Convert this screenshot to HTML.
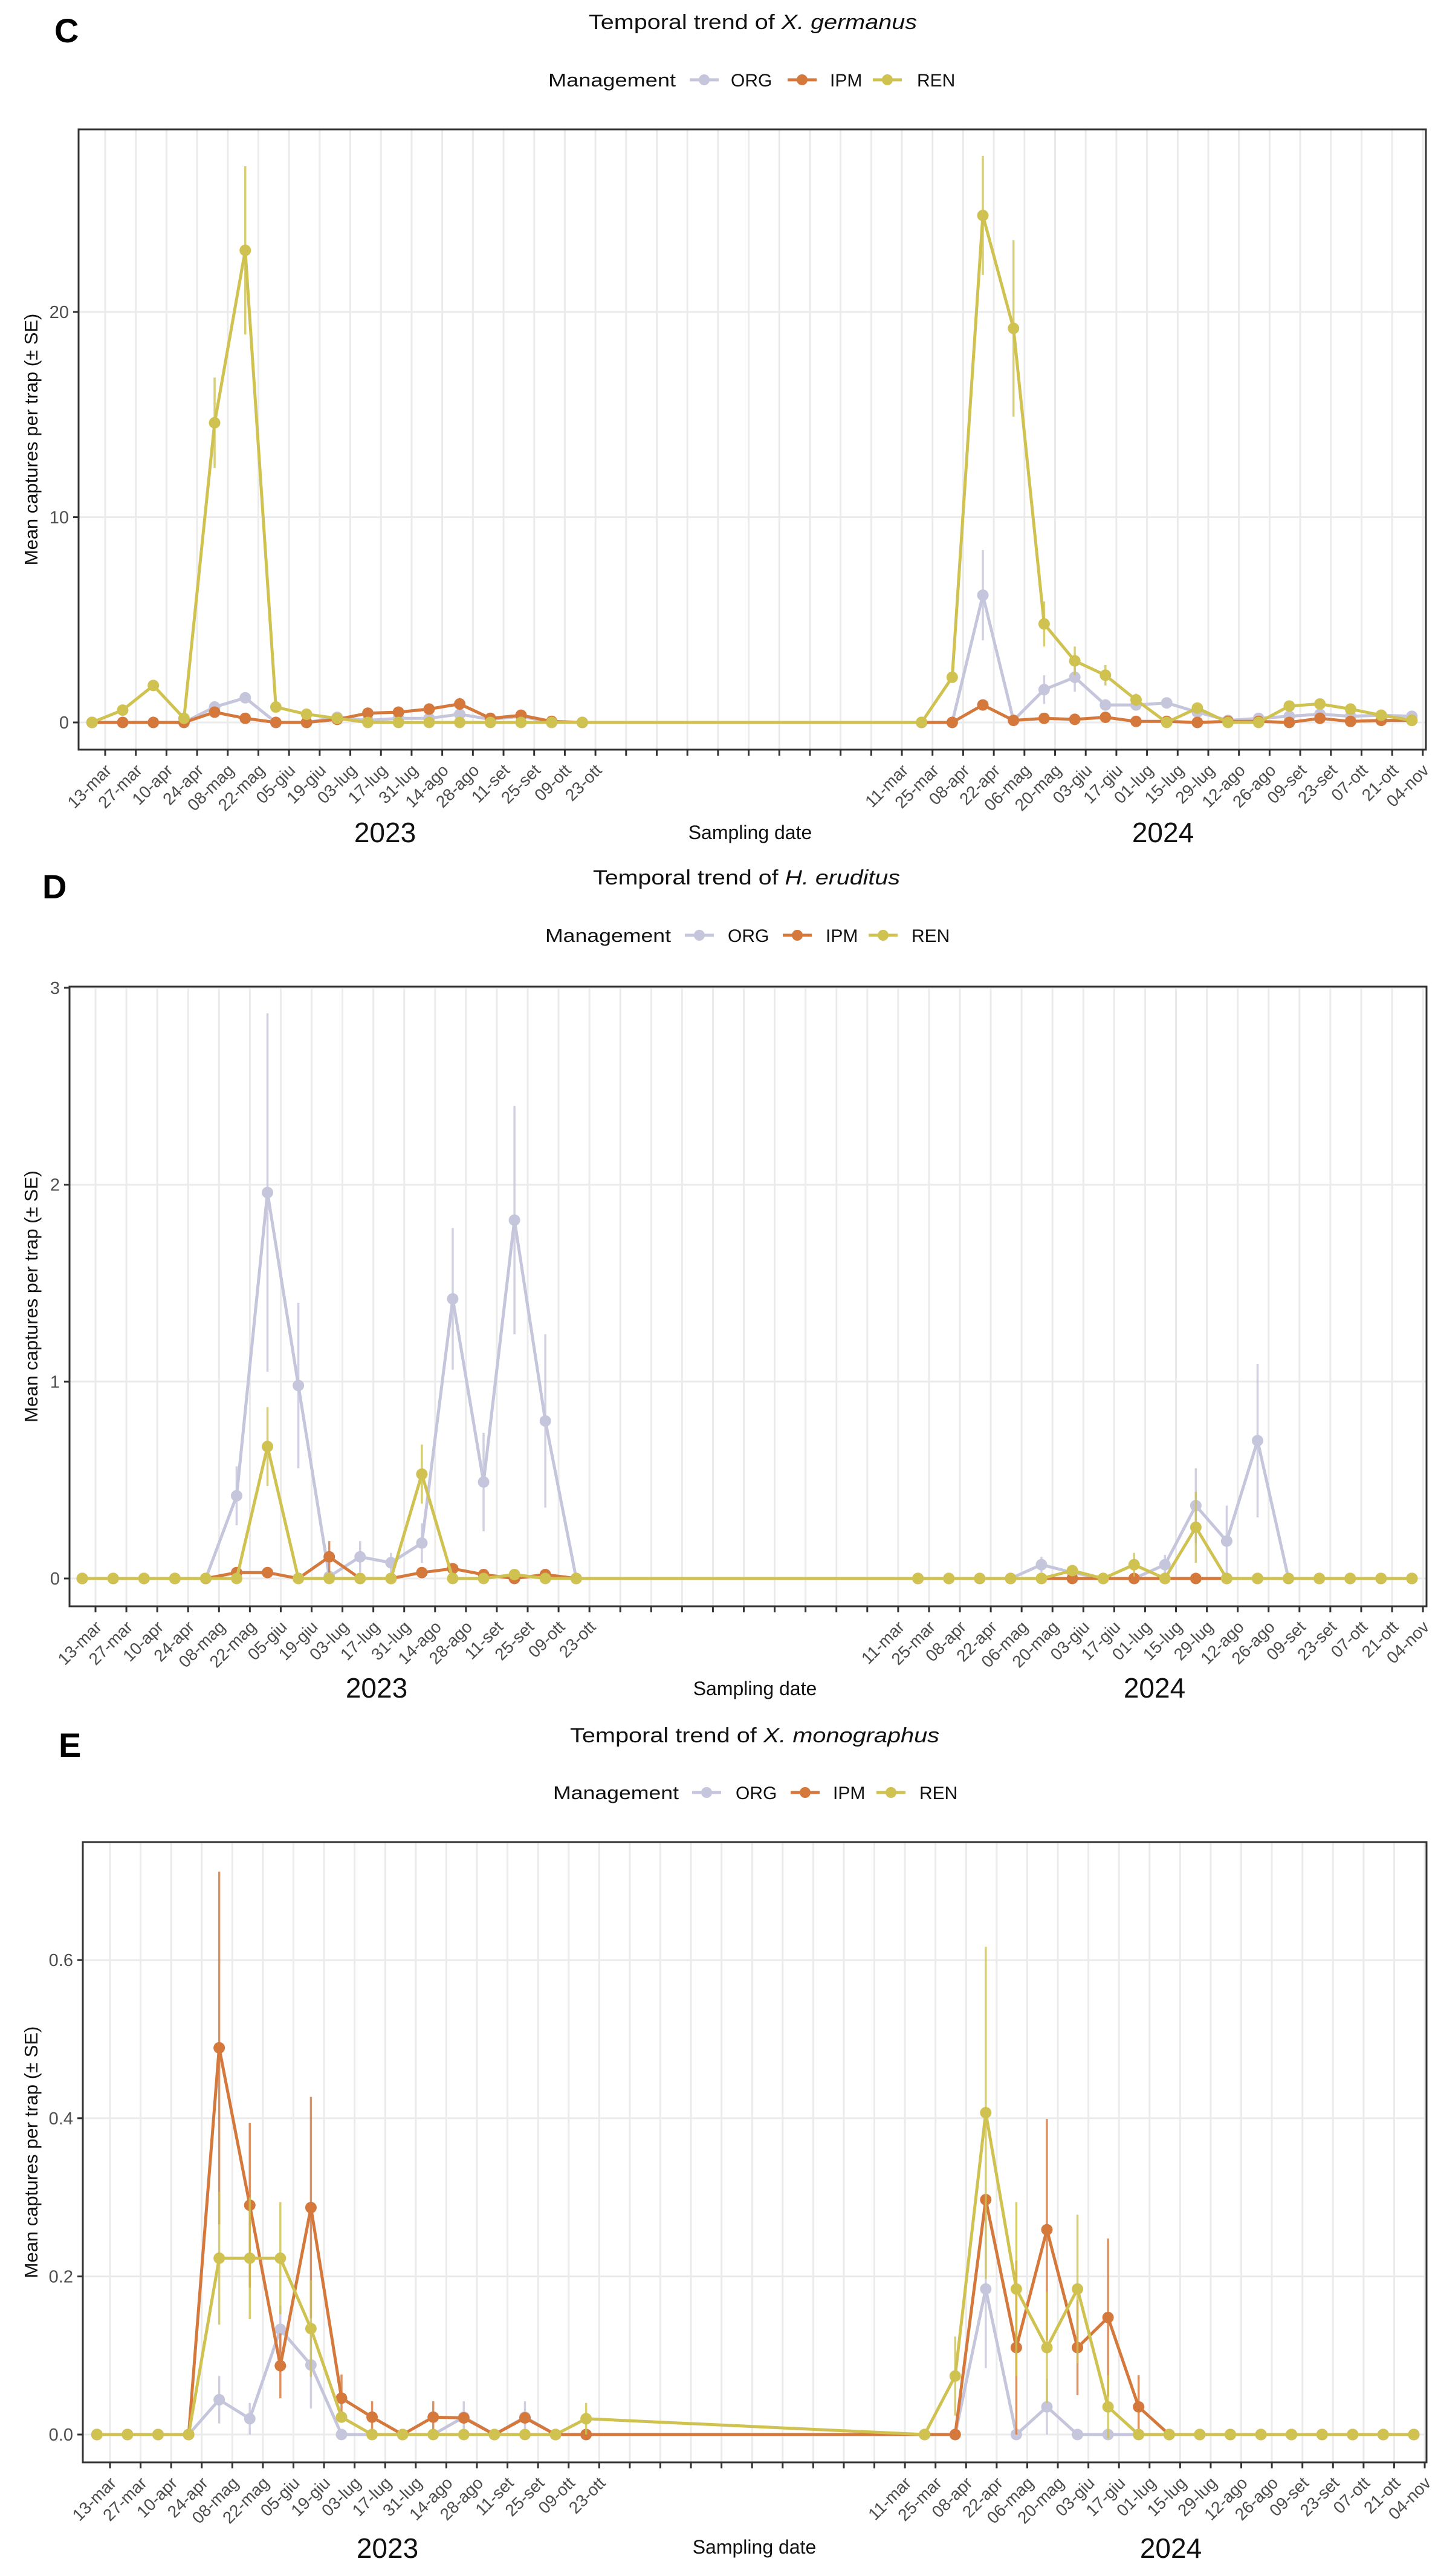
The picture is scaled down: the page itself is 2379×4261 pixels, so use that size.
<!DOCTYPE html>
<html><head><meta charset="utf-8"><title>Temporal trends</title>
<style>
html,body{margin:0;padding:0;background:#fff;}
svg{display:block;font-family:"Liberation Sans",Arial,sans-serif;}
</style></head>
<body>
<svg id="fig" width="2379" height="4261" viewBox="0 0 2379 4261" xmlns="http://www.w3.org/2000/svg"></svg>
<script>
// sampling days since 13-mar-2023 (2023: 17 dates, 2024: 17 dates)
const sampleDays = [-6,8,22,36,50,64,78,92,106,120,134,148,162,176,190,204,218,
  373,387,401,415,429,443,457,471,485,499,513,527,541,555,569,583,597];
const tickLabels2023 = ["13-mar","27-mar","10-apr","24-apr","08-mag","22-mag","05-giu","19-giu","03-lug","17-lug","31-lug","14-ago","28-ago","11-set","25-set","09-ott","23-ott"];
const tickLabels2024 = ["11-mar","25-mar","08-apr","22-apr","06-mag","20-mag","03-giu","17-giu","01-lug","15-lug","29-lug","12-ago","26-ago","09-set","23-set","07-ott","21-ott","04-nov"];
const groups = ["ORG","IPM","REN"];

// Panel C – X. germanus
const cYTicks = [0,10,20];
const cOrg   = [0,0,0,0,0.75,1.2,0,0,0.25,0.1,0.2,0.2,0.4,0.15,0.3,0,0, 0,0,6.2,0.1,1.6,2.2,0.85,0.85,0.95,0.5,0.1,0.2,0.3,0.4,0.3,0.35,0.3];
const cOrgSE = [0,0,0,0,0.2,0.2,0,0,0,0,0,0,0,0,0,0,0, 0,0,2.2,0,0.7,0.7,0,0,0,0,0,0,0,0,0,0,0];
const cIpm   = [0,0,0,0,0.5,0.2,0,0,0.15,0.45,0.5,0.65,0.9,0.2,0.35,0.05,0, 0,0,0.85,0.1,0.2,0.15,0.25,0.05,0.05,0,0.05,0.05,0,0.2,0.05,0.1,0.1];
const cIpmSE = [0,0,0,0,0,0,0,0,0,0,0,0,0.3,0,0,0,0, 0,0,0,0,0,0,0,0,0,0,0,0,0,0,0,0,0];
const cRen   = [0,0.6,1.8,0.2,14.6,23.0,0.75,0.4,0.2,0,0,0,0,0,0,0,0, 0,2.2,24.7,19.2,4.8,3.0,2.3,1.1,0,0.7,0,0,0.8,0.9,0.65,0.35,0.1];
const cRenSE = [0,0,0,0,2.2,4.1,0,0,0,0,0,0,0,0,0,0,0, 0,0,2.9,4.3,1.1,0.7,0.5,0.3,0,0,0,0,0,0,0,0,0];

// Panel D – H. eruditus
const dYTicks = [0,1,2,3];
const dOrg   = [0,0,0,0,0,0.42,1.96,0.98,0.01,0.11,0.08,0.18,1.42,0.49,1.82,0.80,0, 0,0,0,0,0.07,0.03,0,0,0.07,0.37,0.19,0.70,0,0,0,0,0];
const dOrgSE = [0,0,0,0,0,0.15,0.91,0.42,0,0.08,0.05,0.1,0.36,0.25,0.58,0.44,0, 0,0,0,0,0.04,0,0,0,0.05,0.19,0.18,0.39,0,0,0,0,0];
const dIpm   = [0,0,0,0,0,0.03,0.03,0,0.11,0,0,0.03,0.05,0.02,0,0.02,0, 0,0,0,0,0,0,0,0,0,0,0,0,0,0,0,0,0];
const dIpmSE = [0,0,0,0,0,0,0,0,0.08,0,0,0,0,0,0,0,0, 0,0,0,0,0,0,0,0,0,0,0,0,0,0,0,0,0];
const dRen   = [0,0,0,0,0,0,0.67,0,0,0,0,0.53,0,0,0.02,0,0, 0,0,0,0,0,0.04,0,0.07,0,0.26,0,0,0,0,0,0,0];
const dRenSE = [0,0,0,0,0,0,0.2,0,0,0,0,0.15,0,0,0,0,0, 0,0,0,0,0,0,0,0.06,0,0.18,0,0,0,0,0,0,0];

// Panel E – X. monographus
const eYTicks = [0,0.2,0.4,0.6];
const eOrg   = [0,0,0,0,0.044,0.02,0.133,0.088,0,0,0,0,0.022,0,0.022,0,0, 0,0,0.184,0,0.035,0,0,0,0,0,0,0,0,0,0,0,0];
const eOrgSE = [0,0,0,0,0.03,0.02,0.03,0.055,0,0,0,0,0.02,0,0.02,0,0, 0,0,0.1,0,0.035,0,0,0,0,0,0,0,0,0,0,0,0];
const eIpm   = [0,0,0,0,0.489,0.29,0.087,0.287,0.046,0.022,0,0.022,0.021,0,0.021,0,0, 0,0,0.297,0.11,0.259,0.11,0.148,0.035,0,0,0,0,0,0,0,0,0];
const eIpmSE = [0,0,0,0,0.223,0.104,0.041,0.14,0.03,0.02,0,0.02,0,0,0,0,0, 0,0,0,0.11,0.14,0.06,0.1,0.04,0,0,0,0,0,0,0,0,0];
const eRen   = [0,0,0,0,0.223,0.223,0.223,0.134,0.022,0,0,0,0,0,0,0,0.02, 0,0.074,0.407,0.184,0.11,0.184,0.035,0,0,0,0,0,0,0,0,0,0];
const eRenSE = [0,0,0,0,0.084,0.077,0.071,0.061,0,0,0,0,0,0,0,0,0.02, 0,0.05,0.21,0.11,0.07,0.094,0.04,0,0,0,0,0,0,0,0,0,0];

const colors = {ORG:"#c5c5dc", IPM:"#d4783c", REN:"#cfc250"};
const NS = "http://www.w3.org/2000/svg";
const svg = document.getElementById("fig");

function mk(tag, attrs, parent){
  const e = document.createElementNS(NS, tag);
  for (const k in attrs) e.setAttribute(k, attrs[k]);
  (parent||svg).appendChild(e);
  return e;
}

function drawPanel(p){
  const g = mk("g", {});
  
  
  const xS = d => p.x0 + d * p.pxd;
  const yS = v => p.y0 - v * p.pyu;

  // panel letter
  const L = mk("text", {x:p.letter[0], y:p.letter[1], "font-size":56, "font-weight":"bold", fill:"#000"}, g);
  L.textContent = p.letterText;
  
  

  // title
  const T = mk("text", {x:p.title[0], y:p.title[1], "font-size":34, fill:"#111", textLength:p.title[2], lengthAdjust:"spacingAndGlyphs"}, g);
  
  
  const t1 = mk("tspan", {}, T); t1.textContent = "Temporal trend of ";
  const t2 = mk("tspan", {"font-style":"italic"}, T); t2.textContent = p.species;

  // legend
  const lg = mk("g", {}, g);
  
  
  const ly = p.legend.y;
  const mt = mk("text", {x:p.legend.m[0], y:ly+11, "font-size":31, fill:"#111", textLength:p.legend.m[1]-p.legend.m[0], lengthAdjust:"spacingAndGlyphs"}, lg);
  mt.textContent = "Management";
  
  
  groups.forEach((gname, i) => {
    const eg = mk("g", {}, lg);
    
    
    const kx = p.legend.keys[i];
    mk("line", {x1:kx-24, x2:kx+24, y1:ly, y2:ly, stroke:colors[gname], "stroke-width":5}, eg);
    mk("circle", {cx:kx, cy:ly, r:9, fill:colors[gname]}, eg);
    const lt = mk("text", {x:p.legend.texts[i], y:ly+11, "font-size":30, fill:"#111"}, eg);
    lt.textContent = gname;
  });

  // panel background grid
  const grid = mk("g", {}, g);
  
  
  for (let k = 0; k <= 43; k++){
    const x = xS(k*14);
    mk("line", {x1:x, x2:x, y1:p.top, y2:p.bottom, stroke:"#ebebeb", "stroke-width":3}, grid);
  }
  p.yTicks.forEach(v => {
    const y = yS(v);
    mk("line", {x1:p.left, x2:p.right, y1:y, y2:y, stroke:"#ebebeb", "stroke-width":3}, grid);
  });

  // series
  const series = [["ORG", p.org, p.orgSE], ["IPM", p.ipm, p.ipmSE], ["REN", p.ren, p.renSE]];
  series.forEach(([name, vals, se]) => {
    const sg = mk("g", {}, g);
    
    
    vals.forEach((v, i) => {
      if (se[i] > 0){
        const eb = mk("line", {x1:xS(sampleDays[i]), x2:xS(sampleDays[i]), y1:yS(v - se[i]), y2:yS(v + se[i]), stroke:colors[name], "stroke-width":3.5, opacity:0.8}, sg);
        
        
      }
    });
    const pts = vals.map((v, i) => xS(sampleDays[i]).toFixed(1) + "," + yS(v).toFixed(1)).join(" ");
    const pl = mk("polyline", {points:pts, fill:"none", stroke:colors[name], "stroke-width":5, "stroke-linejoin":"round"}, sg);
    
    
    vals.forEach((v, i) => {
      const c = mk("circle", {cx:xS(sampleDays[i]), cy:yS(v), r:9.5, fill:colors[name]}, sg);
      
      
    });
  });

  // border
  const b = mk("rect", {x:p.left, y:p.top, width:p.right-p.left, height:p.bottom-p.top, fill:"none", stroke:"#333", "stroke-width":3}, g);
  
  

  // y axis
  const ya = mk("g", {}, g);
  
  
  p.yTicks.forEach(v => {
    const y = yS(v);
    mk("line", {x1:p.left-9, x2:p.left, y1:y, y2:y, stroke:"#333", "stroke-width":3}, ya);
    const tl = mk("text", {x:p.left-16, y:y+10, "font-size":29, fill:"#4d4d4d", "text-anchor":"end"}, ya);
    tl.textContent = p.yFmt(v);
  });
  const yt = mk("text", {x:0, y:0, "font-size":31, fill:"#111", "text-anchor":"middle", transform:"translate(" + (p.ytitleX) + "," + ((p.top+p.bottom)/2) + ") rotate(-90)"}, g);
  yt.textContent = "Mean captures per trap (± SE)";
  
  

  // x axis
  const xa = mk("g", {}, g);
  
  
  const labels = {};
  tickLabels2023.forEach((t, k) => labels[k] = t);
  tickLabels2024.forEach((t, k) => labels[26 + k] = t);
  for (let k = 0; k <= 43; k++){
    const x = xS(k*14);
    mk("line", {x1:x, x2:x, y1:p.bottom, y2:p.bottom+10, stroke:"#333", "stroke-width":3}, xa);
    if (labels[k]){
      const tl = mk("text", {x:0, y:0, "font-size":28, fill:"#4d4d4d", "text-anchor":"end", transform:"translate(" + (x+12) + "," + (p.bottom+36) + ") rotate(-45)"}, xa);
      tl.textContent = labels[k];
    }
  }
  const yr1 = mk("text", {x:p.years[0], y:p.years[2], "font-size":46, fill:"#111", "text-anchor":"middle"}, g);
  yr1.textContent = "2023";
  
  
  const yr2 = mk("text", {x:p.years[1], y:p.years[2], "font-size":46, fill:"#111", "text-anchor":"middle"}, g);
  yr2.textContent = "2024";
  
  
  const xt = mk("text", {x:p.xtitle[0], y:p.xtitle[1], "font-size":32, fill:"#111", "text-anchor":"middle"}, g);
  xt.textContent = "Sampling date";
  
  
}

drawPanel({id:"c", letterText:"C", letter:[90,70], species:"X. germanus", title:[974,48,543],
  legend:{y:132, m:[907,1118], keys:[1165,1327,1468], texts:[1209,1373,1517]},
  left:130, right:2359, top:214, bottom:1240, x0:174, pxd:3.621, y0:1195, pyu:33.95,
  yTicks:cYTicks, yFmt:v=>String(v), ytitleX:62,
  org:cOrg, orgSE:cOrgSE, ipm:cIpm, ipmSE:cIpmSE, ren:cRen, renSE:cRenSE,
  years:[637,1924,1393], xtitle:[1241,1388]});

drawPanel({id:"d", letterText:"D", letter:[70,1486], species:"H. eruditus", title:[981,1463,508],
  legend:{y:1547, m:[902,1110], keys:[1157,1319,1461], texts:[1204,1366,1508]},
  left:115, right:2360, top:1632, bottom:2657, x0:158, pxd:3.648, y0:2611, pyu:325.7,
  yTicks:dYTicks, yFmt:v=>String(v), ytitleX:62,
  org:dOrg, orgSE:dOrgSE, ipm:dIpm, ipmSE:dIpmSE, ren:dRen, renSE:dRenSE,
  years:[623,1910,2808], xtitle:[1249,2804]});

drawPanel({id:"e", letterText:"E", letter:[97,2906], species:"X. monographus", title:[943,2882,611],
  legend:{y:2965, m:[915,1123], keys:[1169,1332,1474], texts:[1217,1378,1521]},
  left:137, right:2360, top:3047, bottom:4073, x0:182, pxd:3.613, y0:4027, pyu:1308,
  yTicks:eYTicks, yFmt:v=>v.toFixed(1), ytitleX:62,
  org:eOrg, orgSE:eOrgSE, ipm:eIpm, ipmSE:eIpmSE, ren:eRen, renSE:eRenSE,
  years:[641,1937,4231], xtitle:[1248,4224]});
</script>
</body></html>
